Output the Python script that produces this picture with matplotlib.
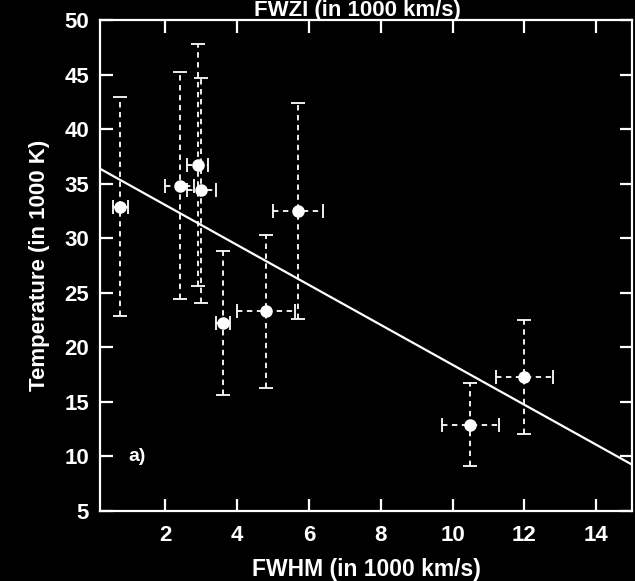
import matplotlib
matplotlib.use("Agg")
import matplotlib.pyplot as plt
import numpy as np

# Line widths (FWHM) and temperatures, with 1-sigma uncertainties
fwhm = [0.75, 2.4, 2.9, 3.0, 3.6, 4.8, 5.7, 10.5, 12.0]
fwhm_err = [0.2, 0.4, 0.3, 0.4, 0.2, 0.8, 0.7, 0.8, 0.8]
temperature = [32.9, 34.8, 36.7, 34.4, 22.2, 23.3, 32.5, 12.9, 17.3]
temperature_err = [10.0, 10.4, 11.1, 10.3, 6.6, 7.0, 9.9, 3.8, 5.2]

# Linear fit T = a + b * FWHM
fit_intercept = 36.7
fit_slope = -1.83

x_ticks = [2, 4, 6, 8, 10, 12, 14]
y_ticks = [5, 10, 15, 20, 25, 30, 35, 40, 45, 50]

plt.rcParams['font.family'] = ['Liberation Sans', 'DejaVu Sans']
plt.rcParams['font.weight'] = 'bold'

fig = plt.figure(figsize=(6.35, 5.81), dpi=100, facecolor='black')
ax = fig.add_axes([100 / 635, 1 - 511 / 581, 532 / 635, 491 / 581], facecolor='black')

ax.set_xlim(0.18, 15.0)
ax.set_ylim(5, 50)

eb = ax.errorbar(fwhm, temperature, xerr=fwhm_err, yerr=temperature_err,
                 fmt='o', color='white', ms=8, elinewidth=1.3,
                 capsize=5, capthick=1.3, zorder=3)
for lc in eb[2]:
    lc.set_linestyle((0, (3, 2.5)))

xs = np.array(ax.get_xlim())
ax.plot(xs, fit_intercept + fit_slope * xs, color='white', lw=1.6, zorder=2)

ax.text(0.97, 10.0, 'a)', color='white', fontsize=14, fontweight='bold',
        va='center', ha='left')

for s in ax.spines.values():
    s.set_color('white')
    s.set_linewidth(1.6)

ax.set_xticks(x_ticks)
ax.set_yticks(y_ticks)
ax.tick_params(direction='in', length=9, width=1.6, colors='white',
               top=True, right=True, labelsize=16)
ax.tick_params(axis='x', pad=10)
ax.tick_params(axis='y', pad=8)
for lbl in ax.get_xticklabels() + ax.get_yticklabels():
    lbl.set_fontweight('bold')

ax.set_xlabel('FWHM (in 1000 km/s)', color='white', fontsize=16.5,
              fontweight='bold', labelpad=9)
ax.set_ylabel('Temperature (in 1000 K)', color='white', fontsize=16,
              fontweight='bold', labelpad=10)
fig.text(357 / 635, 1 - 16 / 581, 'FWZI (in 1000 km/s)', color='white',
         fontsize=16, fontweight='bold', ha='center', va='baseline')

fig.savefig('out.png', dpi=100, facecolor='black')
